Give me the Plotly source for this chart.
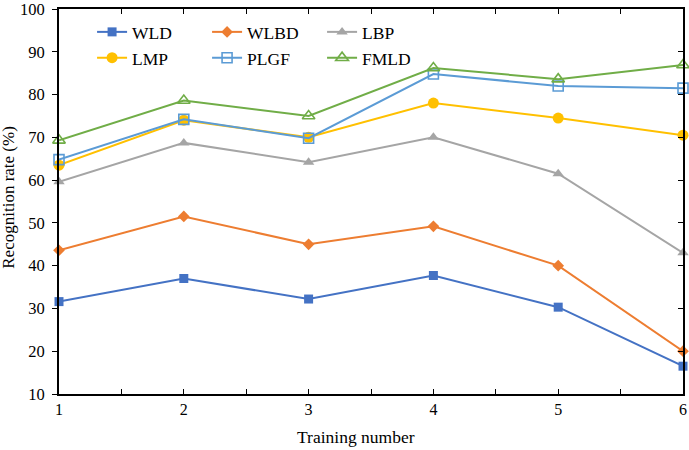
import plotly.graph_objects as go

training = [1, 2, 3, 4, 5, 6]
wld = [31.6, 37.0, 32.2, 37.7, 30.3, 16.5]
wlbd = [43.6, 51.5, 45.0, 49.2, 40.0, 20.0]
lbp = [59.6, 68.7, 64.2, 70.0, 61.5, 43.0]
lmp = [63.5, 74.0, 70.0, 78.0, 74.5, 70.5]
plgf = [64.8, 74.2, 69.8, 84.8, 82.0, 81.5]
fmld = [69.3, 78.6, 75.0, 86.2, 83.6, 86.9]
x_ticks = [1, 1.5, 2, 2.5, 3, 3.5, 4, 4.5, 5, 5.5, 6]
x_tick_text = ["1", "", "2", "", "3", "", "4", "", "5", "", "6"]

series = [
    ("WLD", wld, "#4472C4", "square", 9, "legend"),
    ("WLBD", wlbd, "#ED7D31", "diamond", 9, "legend"),
    ("LBP", lbp, "#A5A5A5", "triangle-up", 10, "legend"),
    ("LMP", lmp, "#FFC000", "circle", 11, "legend2"),
    ("PLGF", plgf, "#5B9BD5", "square-open", 10, "legend2"),
    ("FMLD", fmld, "#70AD47", "triangle-up-open", 11, "legend2"),
]

font = "Liberation Serif, Times New Roman, serif"
fig = go.Figure()
for name, vals, col, sym, sz, leg in series:
    fig.add_trace(go.Scatter(
        x=training, y=vals, name=name, mode="lines+markers", legend=leg,
        line=dict(color=col, width=2),
        marker=dict(symbol=sym, size=sz, color=col,
                    line=dict(color=col, width=1.6 if "open" in sym else 0)),
        cliponaxis=False,
    ))

leg_common = dict(orientation="h", xanchor="left", yanchor="top",
                  entrywidth=70, entrywidthmode="pixels",
                  font=dict(family=font, size=17.5), bgcolor="rgba(0,0,0,0)",
                  tracegroupgap=0)

fig.update_layout(
    width=689, height=450,
    margin=dict(l=59, r=6, t=9, b=56, autoexpand=False),
    plot_bgcolor="white", paper_bgcolor="white",
    font=dict(family=font, size=16, color="black"),
    showlegend=True,
    legend=dict(x=0.053, y=0.987, **leg_common),
    legend2=dict(x=0.053, y=0.920, **leg_common),
    xaxis=dict(range=[1, 6], tickvals=x_ticks, ticktext=x_tick_text,
               showline=True, linecolor="black", linewidth=2, mirror="ticks",
               ticks="inside", ticklen=5, tickwidth=1, tickcolor="black",
               showgrid=False, zeroline=False, automargin=False,
               ticklabeloverflow="allow", tickfont=dict(size=16)),
    yaxis=dict(range=[10, 100], dtick=10, showline=True, linecolor="black", linewidth=2,
               ticks="outside", ticklen=5, tickwidth=1, tickcolor="black",
               showgrid=False, zeroline=False, automargin=False,
               ticklabeloverflow="allow",
               ticklabelstandoff=4, tickfont=dict(size=16.5)),
    yaxis2=dict(overlaying="y", side="right", range=[10, 100], dtick=10,
                showline=True, linecolor="black", linewidth=2, ticks="inside",
                ticklen=5, tickwidth=1, tickcolor="black", showticklabels=False,
                showgrid=False, zeroline=False, anchor="x", automargin=False),
    annotations=[
        dict(text="Training number", xref="paper", yref="paper", x=0.476, y=-0.1125,
             xanchor="center", yanchor="middle", showarrow=False,
             font=dict(family=font, size=17.5)),
        dict(text="Recognition rate (%)", xref="paper", yref="paper", x=-0.081, y=0.511,
             xanchor="center", yanchor="middle", showarrow=False, textangle=-90,
             font=dict(family=font, size=17)),
    ],
)
fig.add_trace(go.Scatter(x=[1], y=[10], xaxis="x", yaxis="y2", showlegend=False,
                         mode="markers", marker=dict(opacity=0), hoverinfo="skip"))

fig.write_html("out.html", config={"displayModeBar": False},
               post_script="document.body.style.margin='0px';")
